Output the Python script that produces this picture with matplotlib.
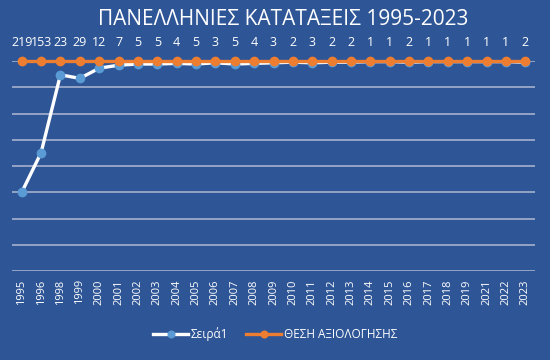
import matplotlib.pyplot as plt
import numpy as np

years = ["1995", "1996", "1998", "1999", "2000", "2001", "2002", "2003", "2004",
         "2005", "2006", "2007", "2008", "2009", "2010", "2011", "2012", "2013",
         "2014", "2015", "2016", "2017", "2018", "2019", "2021", "2022", "2023"]
ranks = [219, 153, 23, 29, 12, 7, 5, 5, 4, 5, 3, 5, 4, 3, 2, 3, 2, 2,
         1, 1, 2, 1, 1, 1, 1, 1, 2]
target = [0] * len(years)

bg = "#2E5596"
plt.rcParams['font.family'] = ['Open Sans', 'DejaVu Sans']

fig = plt.figure(figsize=(5.5, 3.6), dpi=100, facecolor=bg)
ax = fig.add_axes([12 / 550, 89 / 360, 523 / 550, 210 / 360])
ax.set_facecolor(bg)

x = np.arange(len(years))

# horizontal gridlines
for gy in np.linspace(0, 350, 9):
    ax.axhline(gy, color="#AEB9D2", linewidth=1.1, zorder=1)

ax.plot(x, ranks, color="white", linewidth=2.4, marker="o", markersize=6,
        markerfacecolor="#5B9BD5", markeredgecolor="#5B9BD5", label="Σειρά1", zorder=3)
ax.plot(x, target, color="#ED7D31", linewidth=2.4, marker="o", markersize=6,
        label="ΘΕΣΗ ΑΞΙΟΛΟΓΗΣΗΣ", zorder=4, clip_on=False)

# rank labels above the orange line
for i, r in enumerate(ranks):
    ax.annotate(str(r), (x[i], 0), xytext=(0, 9), textcoords="offset points",
                ha="center", va="bottom", color="white", fontsize=9)

ax.set_xlim(-0.5, len(years) - 0.5)
ax.set_ylim(350, 0)
ax.set_yticks([])
ax.set_xticks(x)
ax.set_xticklabels(years, rotation=90, color="white", fontsize=8)
ax.tick_params(axis="x", length=0, pad=6)
for s in ax.spines.values():
    s.set_visible(False)

fig.text(0.515, 0.945, "ΠΑΝΕΛΛΗΝΙΕΣ ΚΑΤΑΤΑΞΕΙΣ 1995-2023", color="white",
         fontsize=15, ha="center", va="center")

fig.legend(loc="center", bbox_to_anchor=(0.5, 0.072), ncol=2, frameon=False,
           fontsize=8.5, labelcolor="white", handlelength=3, columnspacing=1.5,
           handletextpad=0.2, markerscale=0.8)

fig.savefig("out.png", dpi=100, facecolor=bg)
